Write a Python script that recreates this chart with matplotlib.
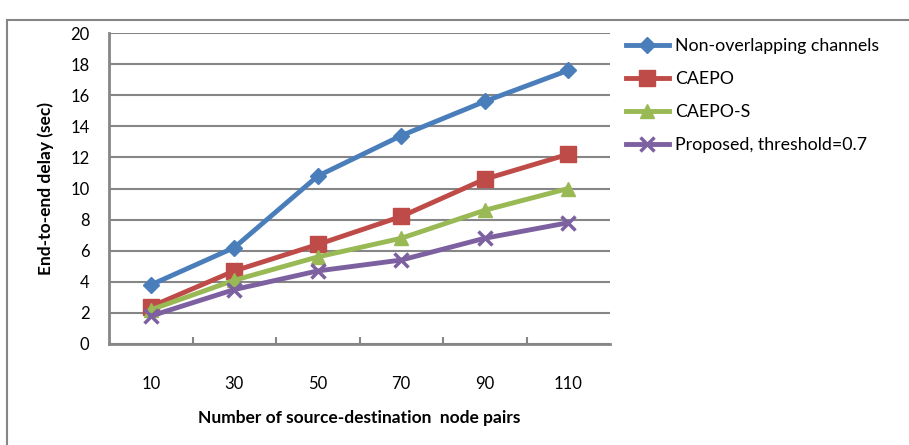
import numpy as np
import matplotlib
matplotlib.use("Agg")
import matplotlib.pyplot as plt
from matplotlib.patches import Rectangle

plt.rcParams['font.family'] = ['Lato', 'DejaVu Sans']

categories = ["10", "30", "50", "70", "90", "110"]
non_overlap = [3.8, 6.2, 10.8, 13.4, 15.6, 17.6]
caepo = [2.4, 4.7, 6.4, 8.2, 10.6, 12.2]
caepo_s = [2.2, 4.1, 5.6, 6.8, 8.6, 10.0]
proposed = [1.8, 3.5, 4.7, 5.4, 6.8, 7.8]

labels = ["Non-overlapping channels", "CAEPO", "CAEPO-S", "Proposed, threshold=0.7"]
colors = ["#4A7EBB", "#BE4B48", "#98B954", "#7D60A0"]
markers = ["D", "s", "^", "x"]
msizes = [8, 11, 10, 10]

fig = plt.figure(figsize=(9.09, 4.45), dpi=100)
# outer chart frame
fig.patches.append(Rectangle((7 / 909, -0.05), 1.1, 0.05 + (445 - 20) / 445,
                             transform=fig.transFigure, fill=False,
                             edgecolor="#868686", lw=1.5))
ax = fig.add_axes([109 / 909, (445 - 344) / 445, 501 / 909, 311 / 445])

x = np.arange(len(categories))
for ys, lab, c, m, ms in zip([non_overlap, caepo, caepo_s, proposed], labels, colors, markers, msizes):
    ax.plot(x, ys, color=c, lw=3.5, marker=m, markersize=ms, label=lab,
            markeredgewidth=2.5 if m == "x" else 1, markeredgecolor=c)

ax.set_xlim(-0.5, len(categories) - 0.5)
ax.set_ylim(0, 20)
ax.set_yticks(np.arange(0, 21, 2))
ax.set_xticks(x)
ax.set_xticklabels(categories, fontsize=12)
ax.set_xticks(np.arange(0.5, len(categories) - 1, 1), minor=True)
ax.tick_params(axis="x", which="major", length=0, pad=23)
ax.tick_params(axis="x", which="minor", length=5, width=1.5, direction="in", color="#868686")
ax.tick_params(axis="y", length=0, labelsize=12, pad=14)
ax.grid(axis="y", color="#868686", lw=1.5)
ax.set_axisbelow(True)
for s in ["top", "right"]:
    ax.spines[s].set_visible(False)
for s in ["left", "bottom"]:
    ax.spines[s].set_color("#868686")
    ax.spines[s].set_linewidth(2)

ax.set_ylabel("End-to-end delay (sec)", fontsize=12.5, fontweight="bold", labelpad=12)
ax.set_xlabel("Number of source-destination  node pairs", fontsize=12.5, fontweight="bold", labelpad=13)

ax.legend(loc="upper left", bbox_to_anchor=(1.0, 1.035), frameon=False, fontsize=12.8,
          handlelength=2.4, labelspacing=0.95, handletextpad=0.35)

fig.savefig("out.png", dpi=100)
